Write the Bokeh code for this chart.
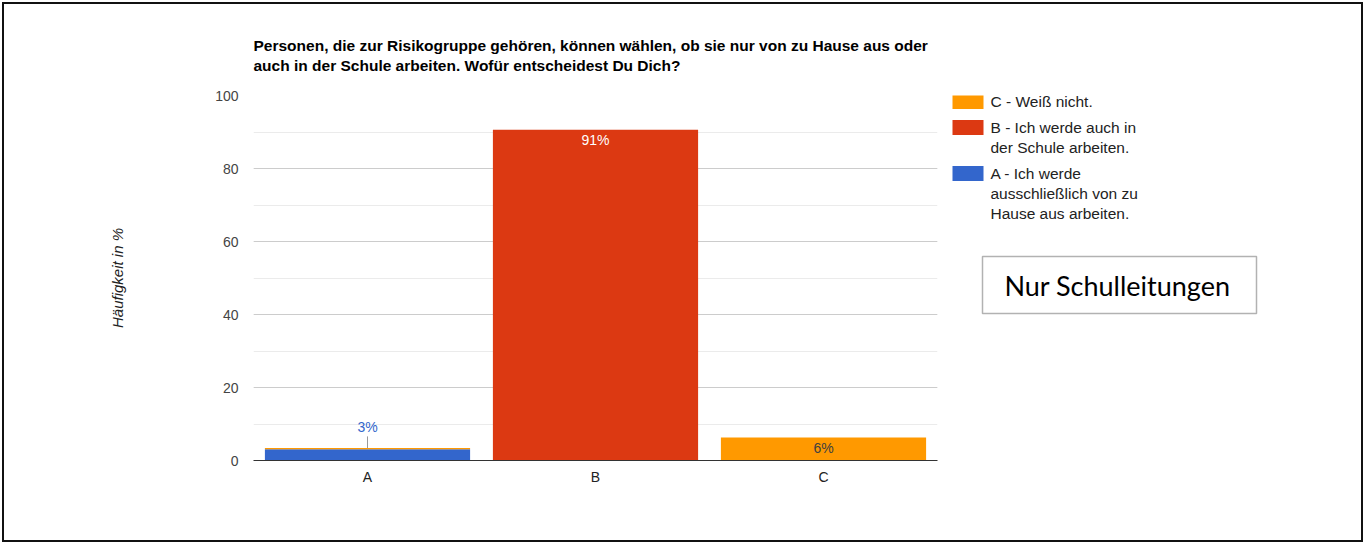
from bokeh.plotting import figure
from bokeh.layouts import row
from bokeh.models import (ColumnDataSource, Label, LabelSet, Title,
                          BoxAnnotation, FactorRange, Range1d, SingleIntervalTicker)
from bokeh.core.properties import value
from bokeh.embed import file_html
from bokeh.resources import INLINE

# ---------------- data ----------------
categories = ["A", "B", "C"]
series_a = [3.1, 0.0, 0.0]      # A - ausschließlich von zu Hause
series_b = [0.0, 90.6, 0.0]     # B - auch in der Schule
series_c = [0.3, 0.0, 6.3]      # C - weiß nicht
bar_labels = ["3%", "91%", "6%"]
legend_labels = ["C - Weiß nicht.",
                 "B - Ich werde auch in\nder Schule arbeiten.",
                 "A - Ich werde\nausschließlich von zu\nHause aus arbeiten."]
title_lines = ["Personen, die zur Risikogruppe gehören, können wählen, ob sie nur von zu Hause aus oder",
               "auch in der Schule arbeiten. Wofür entscheidest Du Dich?"]
y_label = "Häufigkeit in %"
note_text = "Nur Schulleitungen"

BLUE, RED, ORANGE = "#3366cc", "#dc3912", "#ff9900"
legend_colors = [ORANGE, RED, BLUE]
FONT = "Liberation Sans"

W, H = 1365, 544
W1 = 945
FRAME_L, FRAME_W = 253, 684
FRAME_T, FRAME_H = 95, 365
FRAME_B = H - FRAME_T - FRAME_H

# ---------------- main chart ----------------
p = figure(x_range=FactorRange(*categories), y_range=Range1d(0, 100),
           width=W1, height=H, output_backend="svg", toolbar_location=None,
           min_border_left=FRAME_L, min_border_right=W1 - FRAME_L - FRAME_W,
           min_border_top=FRAME_T, min_border_bottom=FRAME_B)
p.outline_line_color = None
p.background_fill_color = "white"
p.border_fill_color = None

src = ColumnDataSource(dict(cat=categories, a=series_a, b=series_b, c=series_c))
rs = p.vbar_stack(["a", "b", "c"], x="cat", width=0.9, source=src,
                  fill_color=[BLUE, RED, ORANGE], line_color=None)

# grid
p.xgrid.grid_line_color = None
p.ygrid.ticker = SingleIntervalTicker(interval=20, num_minor_ticks=2)
p.ygrid.grid_line_color = "#cccccc"
p.ygrid.minor_grid_line_color = "#ebebeb"

# axes
p.yaxis.ticker = SingleIntervalTicker(interval=20, num_minor_ticks=2)
p.yaxis.axis_line_color = None
p.yaxis.major_tick_line_color = None
p.yaxis.minor_tick_line_color = None
p.yaxis.major_label_text_font = FONT
p.yaxis.major_label_text_font_size = "14px"
p.yaxis.major_label_text_color = "#444444"
p.yaxis.major_label_standoff = 9
p.yaxis.axis_label = y_label
p.yaxis.axis_label_text_font = FONT
p.yaxis.axis_label_text_font_style = "italic"
p.yaxis.axis_label_text_font_size = "15px"
p.yaxis.axis_label_text_color = "#222222"
p.yaxis.axis_label_standoff = 86

p.xaxis.axis_line_color = "#333333"
p.xaxis.major_tick_line_color = None
p.xaxis.minor_tick_line_color = None
p.xaxis.major_label_text_font = FONT
p.xaxis.major_label_text_font_size = "14px"
p.xaxis.major_label_text_color = "#222222"
p.xaxis.major_label_standoff = 2

# bar value labels
tops = [a + b + c for a, b, c in zip(series_a, series_b, series_c)]
lab_src = ColumnDataSource(dict(cat=categories, top=tops, text=bar_labels,
                                off=[21, -10, -10],
                                col=[BLUE, "#ffffff", "#404040"]))
p.add_layout(LabelSet(x="cat", y="top", text="text", source=lab_src, y_offset="off",
                      text_color="col", text_align="center", text_baseline="middle",
                      text_font=value(FONT), text_font_size="14px"))
# stem for the small bar annotation
p.segment(x0=[categories[0]], y0=[tops[0]], x1=[categories[0]], y1=[tops[0] + 3.2],
          line_color="#999999", line_width=1)

# title (one two-line title)
p.add_layout(Title(text="\n".join(title_lines), align="left", text_font=FONT,
                   text_font_size="15.5px", text_font_style="bold", text_color="#000000",
                   text_line_height=1.22, standoff=42, offset=0), "above")

# ---------------- right side: legend + note ----------------
W2 = W - W1
q = figure(x_range=Range1d(W1, W), y_range=Range1d(FRAME_T + FRAME_H, FRAME_T),
           width=W2, height=H, output_backend="svg", toolbar_location=None,
           min_border_left=0, min_border_right=0,
           min_border_top=FRAME_T, min_border_bottom=FRAME_B)
q.axis.visible = False
q.grid.grid_line_color = None
q.outline_line_color = None
q.background_fill_color = None
q.border_fill_color = None

SW_X, SW_W, SW_H, TXT_X, LINE_H, GAP = 952, 31, 15, 990, 20, 6
yy = 101
for lab, col in zip(legend_labels, legend_colors):
    lines = lab.split("\n")
    q.add_layout(BoxAnnotation(left=SW_X, right=SW_X + SW_W, top=yy - SW_H / 2,
                               bottom=yy + SW_H / 2, fill_color=col, fill_alpha=1,
                               line_color=None))
    for k, ln in enumerate(lines):
        q.add_layout(Label(x=TXT_X, y=yy + LINE_H * k, text=ln, text_font=FONT,
                           text_font_size="15.5px", text_color="#222222",
                           text_align="left", text_baseline="middle"))
    yy += LINE_H * len(lines) + GAP

# note box
q.add_layout(BoxAnnotation(left=982, right=1256, top=256, bottom=313,
                           fill_color="white", fill_alpha=1,
                           line_color="black", line_width=1.5))
q.add_layout(Label(x=1117, y=285, text=note_text, text_font="Lato",
                   text_font_size="27px", text_color="#000000",
                   text_align="center", text_baseline="middle"))

layout = row(p, q, width=W, height=H,
             styles={"outline": "2px solid #111111", "outline-offset": "-4px",
                     "background": "white"})
open("out.html", "w").write(file_html(layout, INLINE))
